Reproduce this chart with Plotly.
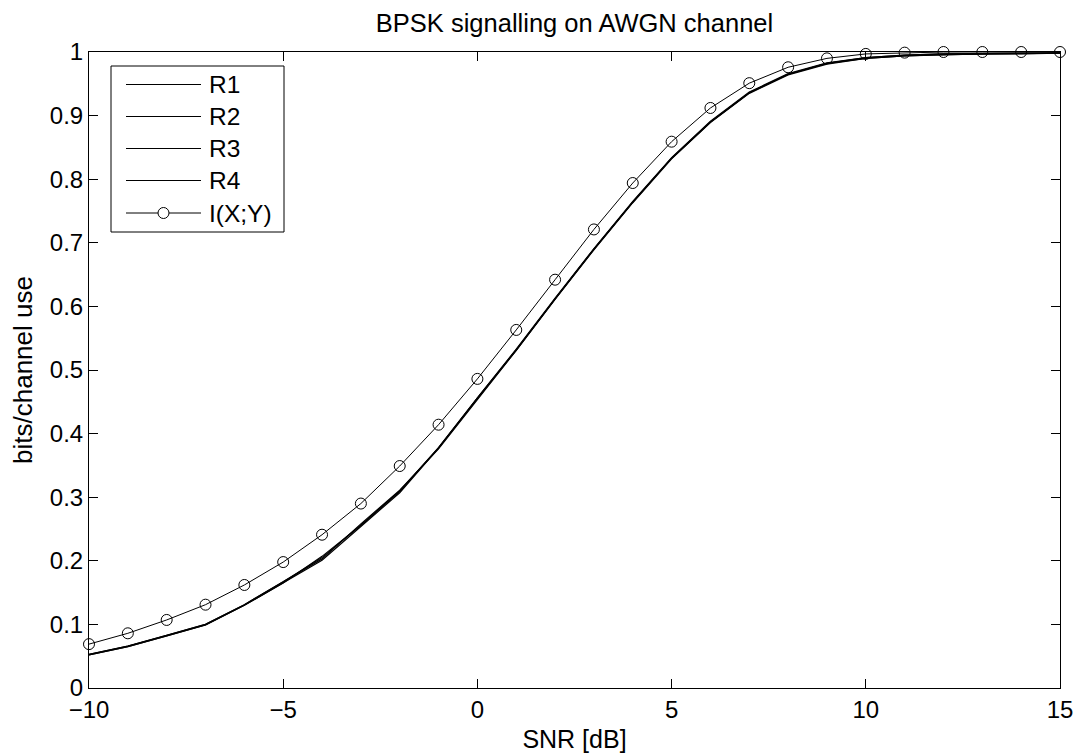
import plotly.graph_objects as go

# ---- data ----
snr_db = list(range(-10, 16))
mi_xy = [0.069, 0.086, 0.107, 0.131, 0.162, 0.198, 0.241, 0.290, 0.349, 0.414,
         0.486, 0.563, 0.642, 0.721, 0.794, 0.859, 0.912, 0.951, 0.976, 0.990,
         0.997, 0.999, 1.000, 1.000, 1.000, 1.000]
r1 = [0.053, 0.066, 0.083, 0.100, 0.131, 0.167, 0.205, 0.256, 0.309, 0.378,
      0.456, 0.532, 0.612, 0.690, 0.764, 0.833, 0.890, 0.936, 0.965, 0.982,
      0.990, 0.994, 0.996, 0.997, 0.997, 0.998]
r2 = [0.052, 0.065, 0.082, 0.099, 0.130, 0.166, 0.201, 0.254, 0.307, 0.377,
      0.455, 0.531, 0.611, 0.689, 0.763, 0.832, 0.889, 0.935, 0.964, 0.981,
      0.990, 0.994, 0.996, 0.997, 0.997, 0.998]
r3 = [0.053, 0.066, 0.083, 0.100, 0.131, 0.167, 0.203, 0.258, 0.311, 0.376,
      0.454, 0.531, 0.612, 0.690, 0.764, 0.833, 0.890, 0.936, 0.965, 0.982,
      0.991, 0.995, 0.997, 0.998, 0.998, 0.998]
r4 = [0.052, 0.065, 0.082, 0.099, 0.130, 0.165, 0.207, 0.256, 0.310, 0.378,
      0.456, 0.533, 0.613, 0.691, 0.765, 0.834, 0.891, 0.937, 0.966, 0.983,
      0.991, 0.995, 0.997, 0.998, 0.998, 0.999]
series_names = ["R1", "R2", "R3", "R4", "I(X;Y)"]
x_ticks = [-10, -5, 0, 5, 10, 15]
y_ticks = [0, 0.1, 0.2, 0.3, 0.4, 0.5, 0.6, 0.7, 0.8, 0.9, 1]
y_tick_labels = ["0", "0.1", "0.2", "0.3", "0.4", "0.5", "0.6", "0.7", "0.8", "0.9", "1"]

# ---- layout geometry (pixels) ----
W, H = 1074, 755
L, R, T, B = 89, 14, 52, 67
FONT = "Liberation Sans, Arial, Helvetica, sans-serif"
pw, ph = W - L - R, H - T - B


def px(xp):
    return (xp - L) / pw


def py(yp):
    return (H - B - yp) / ph


fig = go.Figure()
for name, ys in zip(series_names[:4], [r1, r2, r3, r4]):
    fig.add_trace(go.Scatter(x=snr_db, y=ys, mode="lines", name=name,
                             line=dict(color="black", width=1.2),
                             showlegend=False))
fig.add_trace(go.Scatter(x=snr_db, y=mi_xy, mode="lines+markers", name=series_names[4],
                         line=dict(color="black", width=1),
                         marker=dict(symbol="circle-open", size=11,
                                     color="black", line=dict(width=1)),
                         showlegend=False, cliponaxis=False))

# ---- custom MATLAB-style legend ----
shapes = [dict(type="rect", xref="paper", yref="paper",
               x0=px(111), x1=px(284), y0=py(232), y1=py(66),
               line=dict(color="black", width=1), fillcolor="white", layer="above")]
annotations = []
rows = [84.5, 116.5, 148.5, 180.5, 213]
for name, yr in zip(series_names, rows):
    shapes.append(dict(type="line", xref="paper", yref="paper",
                       x0=px(126), x1=px(201), y0=py(yr), y1=py(yr),
                       line=dict(color="black", width=1), layer="above"))
    annotations.append(dict(x=px(207), y=py(yr), xref="paper", yref="paper",
                            text=name, showarrow=False, xanchor="left",
                            yanchor="middle",
                            font=dict(family=FONT, size=24.5, color="black")))
shapes.append(dict(type="circle", xref="paper", yref="paper",
                   x0=px(158), x1=px(169), y0=py(rows[4] + 5.5), y1=py(rows[4] - 5.5),
                   line=dict(color="black", width=1), fillcolor="white", layer="above"))

fig.update_layout(
    width=W, height=H,
    margin=dict(l=L, r=R, t=T, b=B),
    paper_bgcolor="white", plot_bgcolor="white",
    font=dict(family=FONT, size=24, color="black"),
    title=dict(text="BPSK signalling on AWGN channel", x=(L + pw / 2) / W,
               xanchor="center", y=1 - 23 / H, yanchor="middle",
               font=dict(family=FONT, size=25.5, color="black")),
    shapes=shapes, annotations=annotations,
)
fig.update_xaxes(range=[-10, 15], tickvals=x_ticks, ticks="inside", ticklen=9,
                 tickcolor="black", showline=True, linecolor="black", linewidth=1,
                 mirror="allticks", showgrid=False, zeroline=False, automargin=False,
                 ticklabelstandoff=0,
                 title=dict(text="SNR [dB]", standoff=8,
                            font=dict(family=FONT, size=25)),
                 tickfont=dict(family=FONT, size=24))
fig.update_yaxes(range=[0, 1], tickvals=y_ticks, ticktext=y_tick_labels,
                 ticks="inside", ticklen=9, tickcolor="black", showline=True,
                 linecolor="black", linewidth=1, mirror="allticks", showgrid=False,
                 zeroline=False, automargin=False,
                 title=dict(text="bits/channel use", standoff=9,
                            font=dict(family=FONT, size=26)),
                 tickfont=dict(family=FONT, size=24))

fig.write_html("out.html")
